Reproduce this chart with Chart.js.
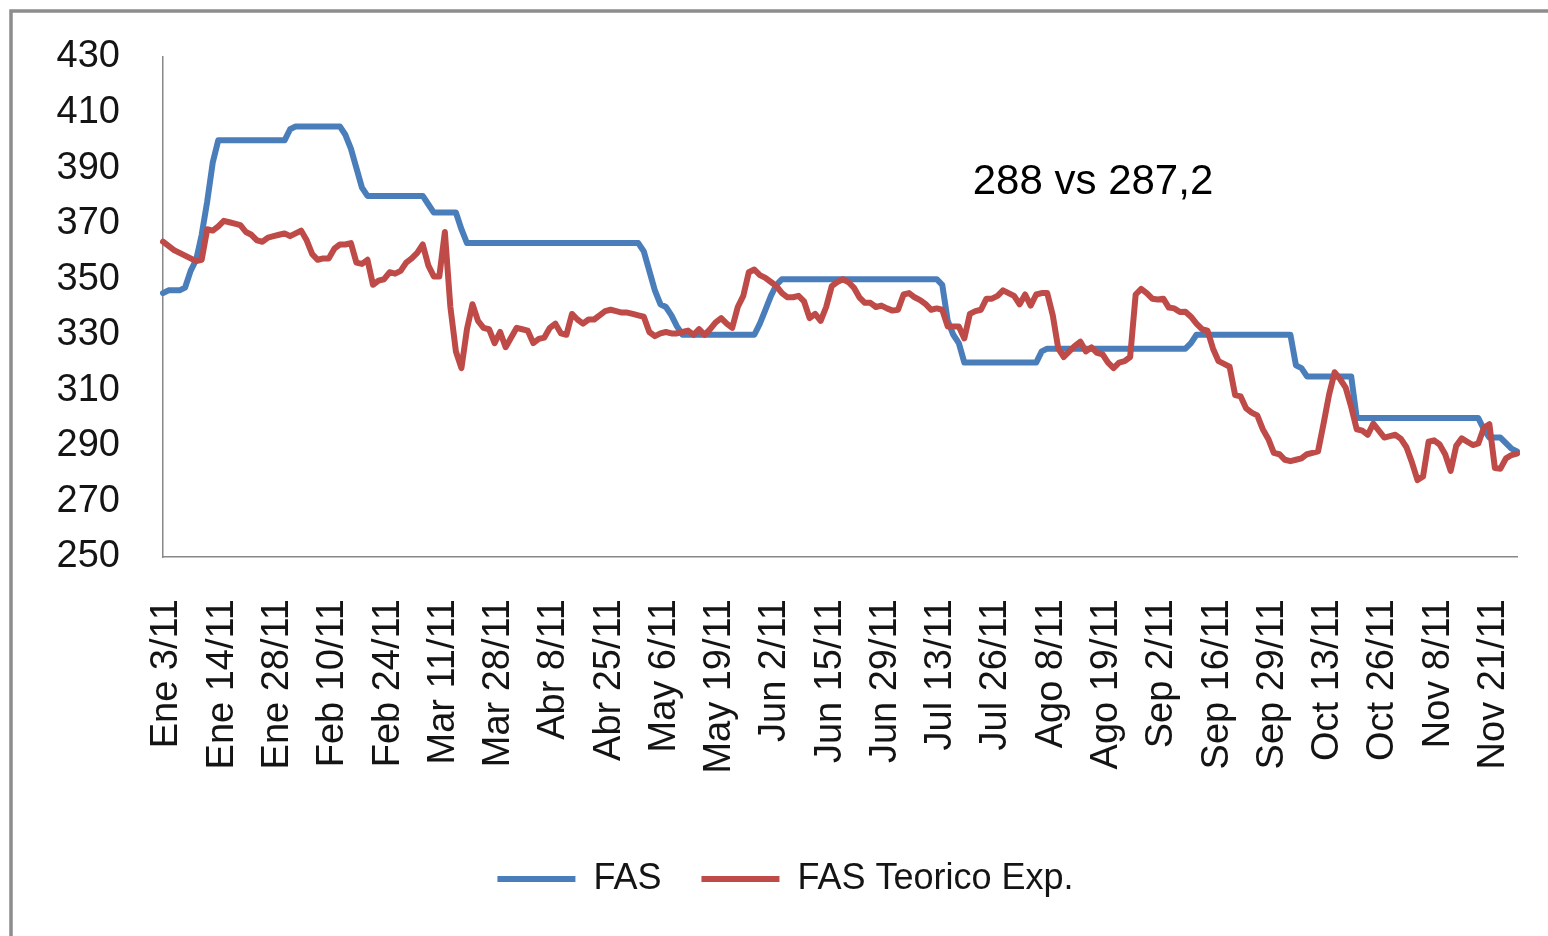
<!DOCTYPE html>
<html>
<head>
<meta charset="utf-8">
<title>FAS vs FAS Teorico Exp.</title>
<script src="https://cdn.jsdelivr.net/npm/chart.js@4.4.0/dist/chart.umd.min.js"></script>
<style>
    html, body { margin: 0; padding: 0; background: #ffffff; }
    #wrap { position: relative; width: 1548px; height: 936px; overflow: hidden; }
</style>
</head>
<body>
<div id="wrap"><canvas id="grafico" width="1548" height="936"></canvas></div>
<script>
// Etiquetas del eje X (una cada 10 ruedas)
const etiquetasFecha = [
    'Ene 3/11', 'Ene 14/11', 'Ene 28/11', 'Feb 10/11', 'Feb 24/11', 'Mar 11/11',
    'Mar 28/11', 'Abr 8/11', 'Abr 25/11', 'May 6/11', 'May 19/11', 'Jun 2/11',
    'Jun 15/11', 'Jun 29/11', 'Jul 13/11', 'Jul 26/11', 'Ago 8/11', 'Ago 19/11',
    'Sep 2/11', 'Sep 16/11', 'Sep 29/11', 'Oct 13/11', 'Oct 26/11', 'Nov 8/11',
    'Nov 21/11'
];
const cadaCuantas = 10;

// Ticks del eje Y
const ejeYMin = 250;
const ejeYMax = 430;
const ejeYPaso = 20;

// FAS (serie azul)
const fas = [
    345, 346, 346, 346, 347, 353, 357, 366, 378, 392,
    400, 400, 400, 400, 400, 400, 400, 400, 400, 400,
    400, 400, 400, 404, 405, 405, 405, 405, 405, 405,
    405, 405, 405, 402, 397, 390, 383, 380, 380, 380,
    380, 380, 380, 380, 380, 380, 380, 380, 377, 374,
    374, 374, 374, 374, 368, 363, 363, 363, 363, 363,
    363, 363, 363, 363, 363, 363, 363, 363, 363, 363,
    363, 363, 363, 363, 363, 363, 363, 363, 363, 363,
    363, 363, 363, 363, 363, 363, 363, 360, 353, 346,
    341, 340, 337, 333, 330, 330, 330, 330, 330, 330,
    330, 330, 330, 330, 330, 330, 330, 330, 334, 339,
    344, 348, 350, 350, 350, 350, 350, 350, 350, 350,
    350, 350, 350, 350, 350, 350, 350, 350, 350, 350,
    350, 350, 350, 350, 350, 350, 350, 350, 350, 350,
    350, 348, 335, 330, 327, 320, 320, 320, 320, 320,
    320, 320, 320, 320, 320, 320, 320, 320, 320, 324,
    325, 325, 325, 325, 325, 325, 325, 325, 325, 325,
    325, 325, 325, 325, 325, 325, 325, 325, 325, 325,
    325, 325, 325, 325, 325, 325, 327, 330, 330, 330,
    330, 330, 330, 330, 330, 330, 330, 330, 330, 330,
    330, 330, 330, 330, 330, 319, 318, 315, 315, 315,
    315, 315, 315, 315, 315, 315, 300, 300, 300, 300,
    300, 300, 300, 300, 300, 300, 300, 300, 300, 300,
    300, 300, 300, 300, 300, 300, 300, 300, 300, 296,
    293, 293, 293, 291, 289, 288
];

// FAS Teorico Exp. (serie roja)
const fasTeorico = [
    363.5, 362, 360.5, 359.5, 358.5, 357.5, 356.5, 357, 368, 367.5,
    369, 371, 370.5, 370, 369.5, 367, 366, 364, 363.5, 365,
    365.5, 366, 366.5, 365.5, 366.5, 367.5, 364, 359, 357, 357.5,
    357.5, 361, 362.5, 362.5, 363, 356, 355.5, 357, 348, 349.5,
    350, 352.5, 352, 353, 356, 357.5, 359.5, 362.5, 355, 351,
    351, 367, 340, 324, 318, 332, 341, 335, 332.5, 332,
    327, 331, 325.5, 329, 332.5, 332, 331.5, 327, 328.5, 329,
    332.5, 334, 330.5, 330, 337.5, 335.5, 334, 335.5, 335.5, 337,
    338.5, 339, 338.5, 338, 338, 337.5, 337, 336.5, 331, 329.5,
    330.5, 331, 330.5, 330.5, 331, 331.5, 330, 332, 330, 332,
    334.5, 336, 334, 332.5, 340, 344, 352.5, 353.5, 351.5, 350.5,
    349, 347.5, 345, 343.5, 343.5, 344, 342, 336, 337.5, 335,
    340, 347.5, 349, 350, 349, 347, 343.5, 341.5, 341.5, 340,
    340.5, 339.5, 338.7, 339, 344.5, 345, 343.5, 342.5, 341, 339,
    339.5, 339, 333, 333, 333, 328.7, 337.5, 338.5, 339, 343,
    343, 344, 346, 345, 344, 341, 344.5, 340.5, 344.5, 345,
    345, 337, 325, 322, 324, 326, 327.5, 324, 325.5, 323.5,
    323, 320, 318, 320, 320.5, 322, 344.5, 346.5, 345, 343,
    342.7, 343, 339.8, 339.5, 338.2, 338.3, 336.5, 334, 332, 331.5,
    325, 320.5, 319.5, 318.5, 308.3, 307.8, 303.5, 302, 301, 296,
    292.5, 287.5, 287, 285, 284.5, 285, 285.5, 287, 287.5, 288,
    298, 308.5, 316.5, 314, 311, 304, 296, 295.5, 294, 298,
    295.5, 293, 293.5, 294, 292.5, 289.5, 284, 277.7, 279, 291.5,
    292, 290.5, 287, 281, 290, 292.7, 291.5, 290.3, 290.9, 296.5,
    297.8, 282, 281.8, 285.5, 286.7, 287.2
];

const textoNota = '288 vs 287,2';

// Categorias: una por rueda, con nombre solo cada 10
const categorias = fas.map((v, i) => (i % cadaCuantas === 0 ? etiquetasFecha[i / cadaCuantas] || '' : ''));

const fuente = 'Liberation Sans, Arial, sans-serif';
const colorTexto = '#141414';
const colorEje = '#878787';

// Marco gris del grafico (como el borde de Excel)
const marcoPlugin = {
    id: 'marco',
    beforeDraw(chart) {
        const ctx = chart.ctx;
        ctx.save();
        ctx.fillStyle = '#ffffff';
        ctx.fillRect(0, 0, chart.width, chart.height);
        ctx.strokeStyle = '#8d8d8d';
        ctx.lineWidth = 3.5;
        ctx.beginPath();
        ctx.moveTo(11, chart.height);
        ctx.lineTo(11, 11);
        ctx.lineTo(chart.width, 11);
        ctx.stroke();
        ctx.restore();
    }
};

// Texto suelto dentro del area
const notaPlugin = {
    id: 'nota',
    afterDraw(chart) {
        const ctx = chart.ctx;
        ctx.save();
        ctx.font = '42px ' + fuente;
        ctx.fillStyle = '#000000';
        ctx.textAlign = 'center';
        ctx.textBaseline = 'middle';
        ctx.fillText(textoNota, 1093, 182);
        ctx.restore();
    }
};

const ctx = document.getElementById('grafico').getContext('2d');

new Chart(ctx, {
    type: 'line',
    data: {
        labels: categorias,
        datasets: [{
            label: 'FAS',
            data: fas,
            borderColor: '#4a7ebb',
            backgroundColor: '#4a7ebb',
            borderWidth: 6,
            borderJoinStyle: 'round',
            borderCapStyle: 'round',
            pointRadius: 0,
            tension: 0,
            fill: false,
            order: 1
        }, {
            label: 'FAS Teorico Exp.',
            data: fasTeorico,
            borderColor: '#be4b48',
            backgroundColor: '#be4b48',
            borderWidth: 6,
            borderJoinStyle: 'round',
            borderCapStyle: 'round',
            pointRadius: 0,
            tension: 0,
            fill: false,
            order: 0
        }]
    },
    options: {
        responsive: false,
        animation: false,
        devicePixelRatio: 1,
        layout: {
            padding: { left: 54, right: 31, top: 57, bottom: 29 }
        },
        plugins: {
            legend: {
                position: 'bottom',
                labels: {
                    usePointStyle: true,
                    pointStyle: 'line',
                    pointStyleWidth: 78,
                    padding: 40,
                    color: colorTexto,
                    font: { family: fuente, size: 36 },
                    sort: (a, b) => a.datasetIndex - b.datasetIndex
                }
            },
            tooltip: { enabled: false }
        },
        scales: {
            x: {
                offset: false,
                // sin rayitas: el largo de tick solo separa las etiquetas del eje
                grid: { display: false, drawTicks: true, tickLength: 42 },
                border: { display: true, color: colorEje, width: 1.5 },
                ticks: {
                    autoSkip: false,
                    maxRotation: 90,
                    minRotation: 90,
                    padding: 0,
                    labelOffset: 4,
                    color: colorTexto,
                    font: { family: fuente, size: 38 },
                    callback: function (value) {
                        const l = this.getLabelForValue(value);
                        return l === '' ? null : l;
                    }
                },
                afterFit: function (scale) {
                    scale.height = 264;
                }
            },
            y: {
                min: ejeYMin,
                max: ejeYMax,
                grid: { display: false, drawTicks: true, tickLength: 43 },
                border: { display: true, color: colorEje, width: 1.5 },
                ticks: {
                    stepSize: ejeYPaso,
                    padding: 0,
                    color: colorTexto,
                    font: { family: fuente, size: 38 }
                },
                afterFit: function (scale) {
                    scale.width = 109;
                }
            }
        }
    },
    plugins: [marcoPlugin, notaPlugin]
});
</script>
</body>
</html>
